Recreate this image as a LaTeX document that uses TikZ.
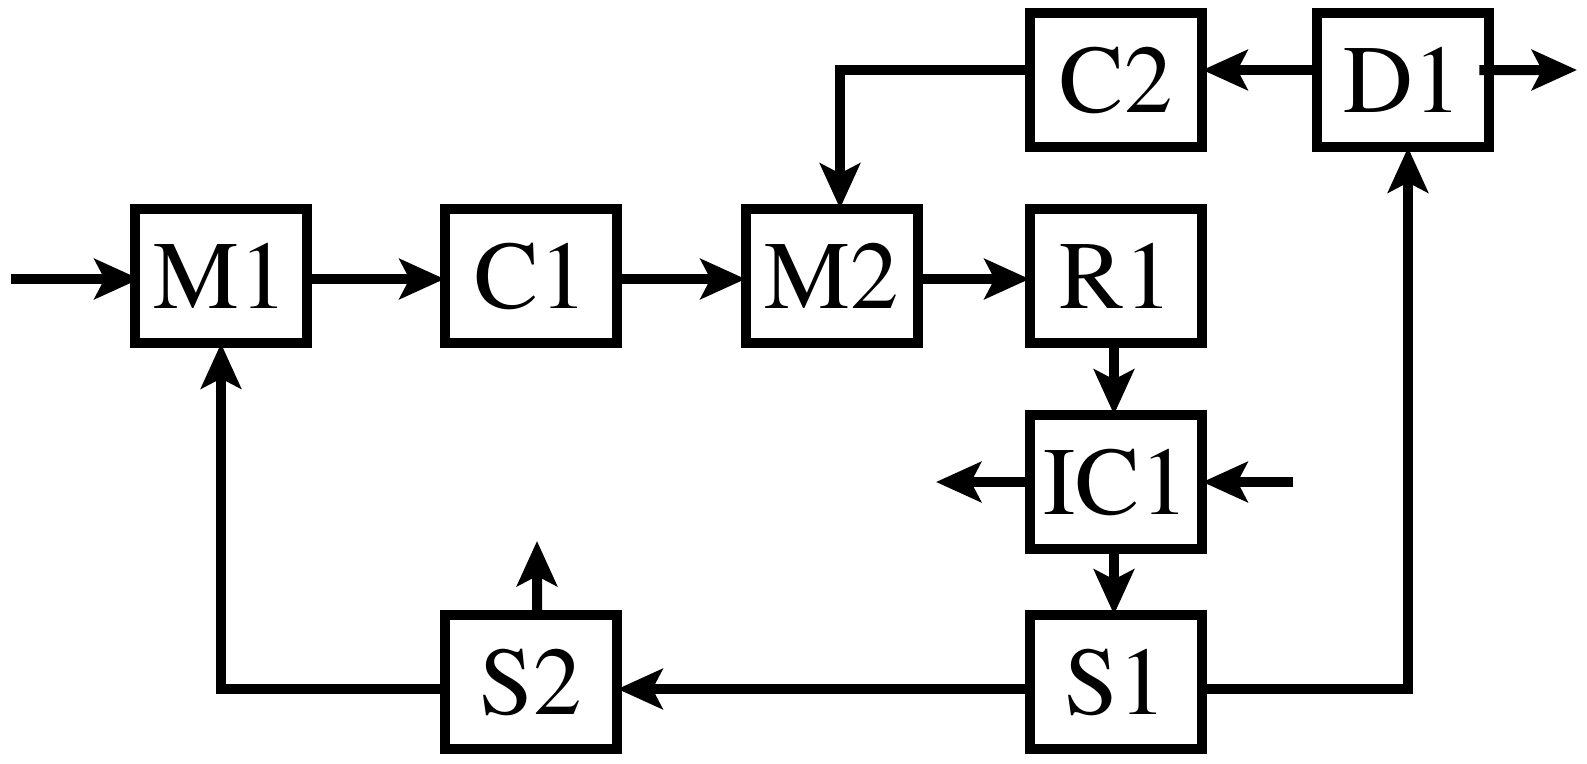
\documentclass[tikz,border=0pt]{standalone}
\usepackage[T1]{fontenc}
\usepackage{times}
\usetikzlibrary{arrows.meta}
\begin{document}
\begin{tikzpicture}[x=0.02cm, y=-0.02cm,
  blk/.style={draw, line width=0.2cm, minimum width=3.46cm, minimum height=2.7cm,
    inner sep=0pt, outer sep=0pt, font=\fontsize{55}{60}\selectfont},
  arr/.style={line width=0.2cm, -{Stealth[length=0.9cm, width=0.8cm, inset=0.2cm]}}]
\useasboundingbox (0,0) rectangle (1587,764);
\node[blk] (M1) at (221,276) {M1};
\node[blk] (C1) at (531,276) {C1};
\node[blk] (M2) at (832,276) {M2};
\node[blk] (R1) at (1116,276) {R1};
\node[blk] (C2) at (1116,80) {C2};
\node[blk] (D1) at (1403,80) {D1};
\node[blk] (IC1) at (1116,482) {IC1};
\node[blk] (S1) at (1116,682) {S1};
\node[blk] (S2) at (531,682) {S2};
\coordinate (in) at (11,279);
\coordinate (icout) at (936,482);
\coordinate (icin) at (1293,482);
\coordinate (dout) at (1577,70);
\coordinate (s2out) at (537,541);
% middle row
\draw[arr] (in) -- ([xshift=0.1cm]in -| M1.west);
\draw[arr] ([yshift=-0.06cm]M1.east) -- ([yshift=-0.06cm]C1.west);
\draw[arr] ([yshift=-0.06cm]C1.east) -- ([yshift=-0.06cm]M2.west);
\draw[arr] ([yshift=-0.06cm]M2.east) -- ([yshift=-0.06cm]R1.west);
% vertical chain
\draw[arr] ([xshift=-0.04cm]R1.south) -- ([xshift=-0.04cm]IC1.north);
\draw[arr] ([xshift=-0.04cm]IC1.south) -- ([xshift=-0.04cm]S1.north);
\draw[arr] (IC1.west) -- (icout);
\draw[arr] (icin) -- (IC1.east);
% bottom row
\draw[arr] ([yshift=-0.14cm]S1.west) -- ([yshift=-0.14cm]S2.east);
\draw[arr] ([yshift=-0.14cm]S2.west) -| (M1.south);
\draw[arr] ([xshift=0.12cm]S2.north) -- (s2out);
\draw[arr] ([yshift=-0.14cm]S1.east) -| ([xshift=0.1cm]D1.south);
% top row
\draw[arr] ([yshift=0.2cm]D1.west) -- ([yshift=0.2cm]C2.east);
\draw[arr] ([yshift=0.2cm,xshift=-0.2cm]D1.east) -- (dout);
\draw[arr] ([yshift=0.2cm]C2.west) -| ([xshift=0.16cm]M2.north);
\end{tikzpicture}
\end{document}
